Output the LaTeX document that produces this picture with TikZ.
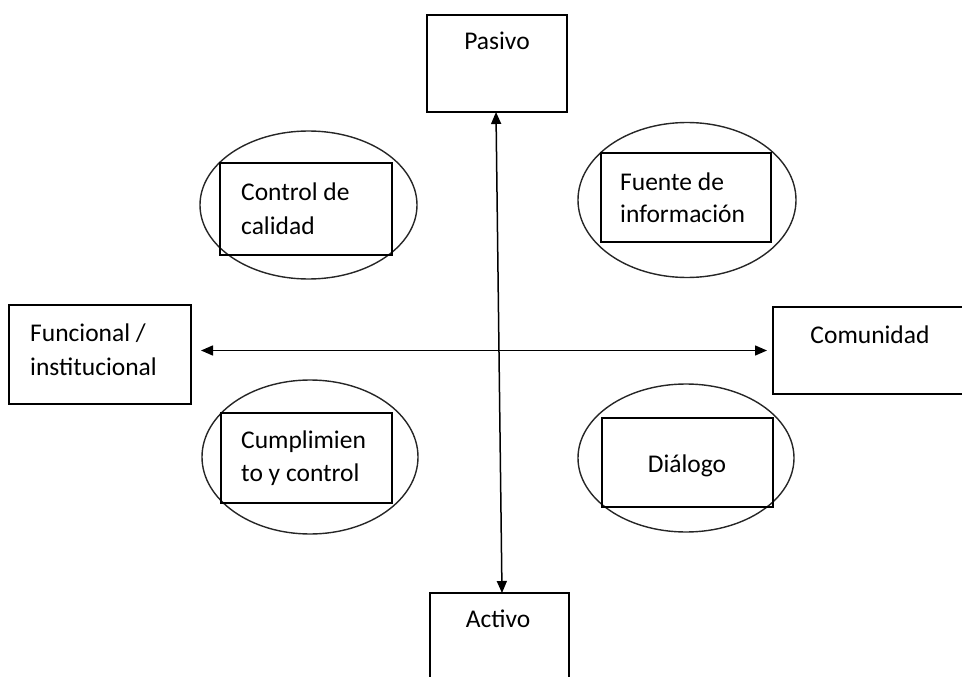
\documentclass[tikz,border=0pt]{standalone}
\usepackage{fontspec}
\setmainfont{Carlito}
\usetikzlibrary{shapes.geometric,arrows.meta}
\begin{document}
\begin{tikzpicture}[x=1pt,y=-1pt,
  every node/.style={font=\fontsize{25.5}{34}\selectfont},
  frame/.style={draw=black,line width=1.8pt,rectangle,inner sep=0pt,outer sep=0pt},
  oval/.style={draw=black!85,line width=1.4pt,ellipse,inner sep=0pt,outer sep=0pt},
  label text/.style={inner sep=0pt,align=left},
  arr/.style={line width=1.5pt,{Triangle[length=12pt,width=10pt]}-{Triangle[length=12pt,width=10pt]}}
]
\useasboundingbox (0,0) rectangle (962,677);

% axis end boxes
\node[frame,minimum width=140pt,minimum height=97pt] (pasivo) at (497,63.5) {};
\node[frame,minimum width=139pt,minimum height=107pt] (activo) at (499.5,646.5) {};
\node[frame,minimum width=182pt,minimum height=99pt] (func) at (100,354.5) {};
\node[frame,minimum width=212pt,minimum height=87pt] (com) at (879,350.5) {};

\node[inner sep=0pt,anchor=base] (tpasivo) at (497,50) {Pasivo};
\node[inner sep=0pt,anchor=base] (tactivo) at (498,627) {Activo};
\node[inner sep=0pt,anchor=base] (tcom) at (870,343) {Comunidad};
% two-line labels: the base anchor sits on the second line
\node[label text,anchor=base west] (tfunc) at (30,375) {Funcional /\\institucional};

% quadrant ovals with their boxes
\node[oval,minimum width=217pt,minimum height=148pt] (ovtl) at (308.5,205) {};
\node[oval,minimum width=218pt,minimum height=155pt] (ovtr) at (687,200) {};
\node[oval,minimum width=216pt,minimum height=154pt] (ovbl) at (310,457) {};
\node[oval,minimum width=216pt,minimum height=148pt] (ovbr) at (686,458) {};

\node[frame,minimum width=172pt,minimum height=92pt] (qtl) at (306,209) {};
\node[frame,minimum width=170pt,minimum height=89pt] (qtr) at (686,197.5) {};
\node[frame,minimum width=171pt,minimum height=90pt] (qbl) at (306.5,458) {};
\node[frame,minimum width=171pt,minimum height=89pt] (qbr) at (687.5,462.5) {};

\node[label text,anchor=base west] (ttl) at (241,234) {Control de\\calidad};
\node[label text,anchor=base west,font=\fontsize{25.5}{32}\selectfont] (ttr) at (620,222) {Fuente de\\información};
\node[label text,anchor=base west,font=\fontsize{25.5}{33}\selectfont] (tbl) at (241,481) {Cumplimien\\to y control};
\node[inner sep=0pt,anchor=base] (tbr) at (687,472) {Diálogo};

% axes
\draw[arr] ([xshift=-1pt]pasivo.south) -- ([xshift=2.5pt]activo.north);
\draw[arr,shorten <=10pt,shorten >=6pt] (func.east |- com.west) -- (com.west);
\end{tikzpicture}
\end{document}
